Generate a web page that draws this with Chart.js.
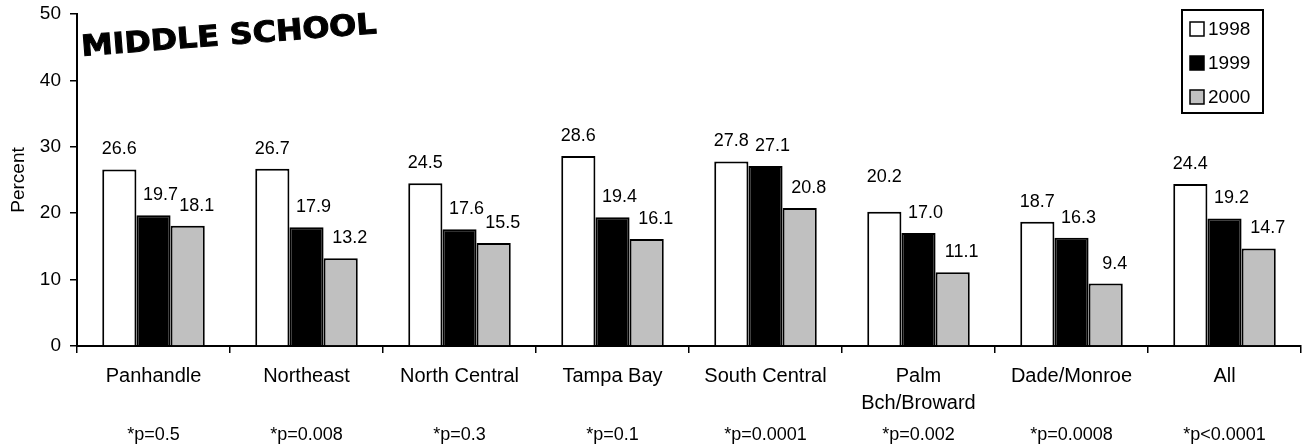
<!DOCTYPE html>
<html>
<head>
<meta charset="utf-8">
<script src="https://cdn.jsdelivr.net/npm/chart.js@4/dist/chart.umd.min.js"></script>
<style>
  html, body { margin: 0; padding: 0; background: #fff; }
  #wrap { width: 1302px; height: 448px; position: relative; }
</style>
</head>
<body>
<div id="wrap"><canvas id="c" width="1302" height="448"></canvas></div>
<script>
// Regions of the state (x categories)
const regions = ['Panhandle', 'Northeast', 'North Central', 'Tampa Bay', 'South Central', ['Palm', 'Bch/Broward'], 'Dade/Monroe', 'All'];
// Significance of the trend in each region
const pValues = ['*p=0.5', '*p=0.008', '*p=0.3', '*p=0.1', '*p=0.0001', '*p=0.002', '*p=0.0008', '*p<0.0001'];
// Percent by survey year
const years = ['1998', '1999', '2000'];
const pct1998 = [26.6, 26.7, 24.5, 28.6, 27.8, 20.2, 18.7, 24.4];
const pct1999 = [19.7, 17.9, 17.6, 19.4, 27.1, 17.0, 16.3, 19.2];
const pct2000 = [18.1, 13.2, 15.5, 16.1, 20.8, 11.1, 9.4, 14.7];
const yTicks = [0, 10, 20, 30, 40, 50];

const FONT = '"Liberation Sans", Arial, sans-serif';
const fills = ['#ffffff', '#000000', '#c0c0c0'];
// horizontal shift of the value text relative to each bar's centre
const labelShift = [0, 7, 9];

const valueLabels = {
  id: 'valueLabels',
  afterDatasetsDraw(chart) {
    const ctx = chart.ctx;
    ctx.save();
    ctx.font = '18px ' + FONT;
    ctx.fillStyle = '#000';
    ctx.textAlign = 'center';
    ctx.textBaseline = 'middle';
    chart.data.datasets.forEach((ds, di) => {
      chart.getDatasetMeta(di).data.forEach((bar, i) => {
        let lift = 20;
        if (di === 0 && i === 5) lift = 35;
        ctx.fillText(ds.data[i].toFixed(1), bar.x + labelShift[di], bar.y - lift);
      });
    });
    ctx.restore();
  }
};

const extras = {
  id: 'extras',
  afterDraw(chart) {
    const ctx = chart.ctx;
    const xs = chart.scales.x;
    ctx.save();
    // p-values under each region
    ctx.font = '18px ' + FONT;
    ctx.fillStyle = '#000';
    ctx.textAlign = 'center';
    ctx.textBaseline = 'middle';
    pValues.forEach((p, i) => ctx.fillText(p, xs.getPixelForValue(i), 435));

    // legend
    ctx.lineWidth = 2;
    ctx.strokeStyle = '#000';
    ctx.strokeRect(1182, 10, 81, 103);
    ctx.font = '19px ' + FONT;
    ctx.textAlign = 'left';
    years.forEach((y, i) => {
      const cy = 29 + i * 34;
      ctx.fillStyle = fills[i];
      ctx.fillRect(1190, cy - 7, 14, 14);
      ctx.lineWidth = 1.5;
      ctx.strokeRect(1190, cy - 7, 14, 14);
      ctx.fillStyle = '#000';
      ctx.fillText(y, 1208, cy + 1);
    });

    // heading
    ctx.save();
    ctx.translate(82, 56);
    ctx.rotate(Math.atan2(-23, 296));
    ctx.font = 'bold 29px "DejaVu Sans", sans-serif';
    const w = ctx.measureText('MIDDLE SCHOOL').width;
    ctx.scale(296 / w, 1);
    ctx.textAlign = 'left';
    ctx.textBaseline = 'alphabetic';
    ctx.fillStyle = '#000';
    ctx.strokeStyle = '#000';
    ctx.lineWidth = 1;
    ctx.fillText('MIDDLE SCHOOL', 0, 0);
    ctx.strokeText('MIDDLE SCHOOL', 0, 0);
    ctx.restore();

    ctx.restore();
  }
};

new Chart(document.getElementById('c'), {
  type: 'bar',
  data: {
    labels: regions,
    datasets: [
      { label: years[0], data: pct1998, backgroundColor: fills[0], borderColor: '#000', borderWidth: 2 },
      { label: years[1], data: pct1999, backgroundColor: fills[1], borderColor: '#000', borderWidth: 2 },
      { label: years[2], data: pct2000, backgroundColor: fills[2], borderColor: '#000', borderWidth: 2 }
    ]
  },
  options: {
    responsive: false,
    animation: false,
    layout: { padding: { top: 14, right: 1, left: 0, bottom: 0 } },
    datasets: { bar: { categoryPercentage: 0.67, barPercentage: 1.0 } },
    plugins: { legend: { display: false }, tooltip: { enabled: false } },
    scales: {
      x: {
        afterFit(s) { s.height = 102; s.paddingLeft = 0; s.paddingRight = 0; },
        grid: { offset: true, drawOnChartArea: false, color: '#000', lineWidth: 1.5, tickLength: 7 },
        border: { color: '#000', width: 2 },
        ticks: { color: '#000', font: { family: FONT, size: 20, lineHeight: 1.35 }, padding: 10, maxRotation: 0, autoSkip: false }
      },
      y: {
        min: 0, max: 50,
        afterFit(s) { s.width = 77; s.paddingTop = 0; s.paddingBottom = 0; },
        afterBuildTicks(s) { s.ticks = yTicks.map(v => ({ value: v })); },
        grid: { drawOnChartArea: false, color: '#000', lineWidth: 1.5, tickLength: 7 },
        border: { color: '#000', width: 2 },
        ticks: { color: '#000', font: { family: FONT, size: 19 }, padding: 9 },
        title: { display: true, text: 'Percent', color: '#000', font: { family: FONT, size: 19 }, padding: { top: 7, bottom: 0 } }
      }
    }
  },
  plugins: [valueLabels, extras]
});
</script>
</body>
</html>
